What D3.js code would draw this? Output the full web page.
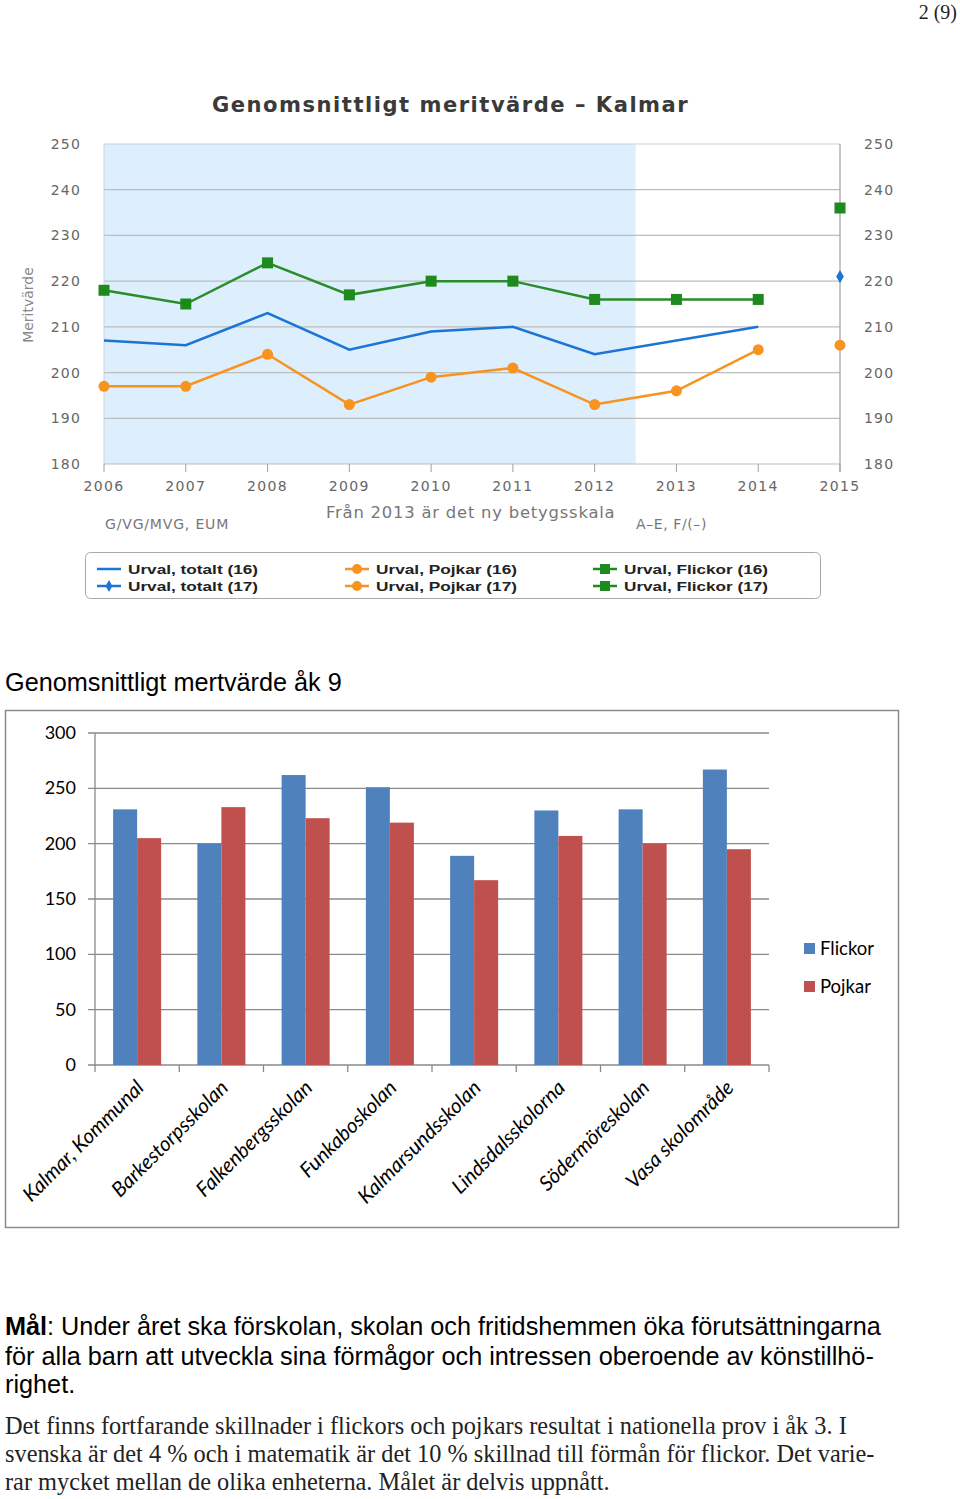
<!DOCTYPE html>
<html><head><meta charset="utf-8">
<script src="https://cdn.jsdelivr.net/npm/d3@7"></script>
<style>
html,body{margin:0;padding:0;background:#fff;}
svg{display:block;}
</style></head>
<body>
<svg id="page" width="960" height="1499"></svg>
<script>
// ---------- DATA: line chart ----------
const years = [2006, 2007, 2008, 2009, 2010, 2011, 2012, 2013, 2014];
const totalt16 = [207, 206, 213, 205, 209, 210, 204, 207, 210];
const pojkar16 = [197, 197, 204, 193, 199, 201, 193, 196, 205];
const flickor16 = [218, 215, 224, 217, 220, 220, 216, 216, 216];
const year17 = 2015;
const totalt17 = 221;
const pojkar17 = 206;
const flickor17 = 236;
const lineTicksY = [180, 190, 200, 210, 220, 230, 240, 250];
const lineTicksX = [2006, 2007, 2008, 2009, 2010, 2011, 2012, 2013, 2014, 2015];
const legendLabels = ["Urval, totalt (16)", "Urval, totalt (17)", "Urval, Pojkar (16)", "Urval, Pojkar (17)", "Urval, Flickor (16)", "Urval, Flickor (17)"];

// ---------- DATA: bar chart ----------
const schools = ["Kalmar, Kommunal", "Barkestorpsskolan", "Falkenbergsskolan", "Funkaboskolan", "Kalmarsundsskolan", "Lindsdalsskolorna", "Södermöreskolan", "Vasa skolområde"];
const flickor = [231, 200, 262, 251, 189, 230, 231, 267];
const pojkar = [205, 233, 223, 219, 167, 207, 200, 195];
const barSeries = ["Flickor", "Pojkar"];
const barTicks = [0, 50, 100, 150, 200, 250, 300];

const svg = d3.select("#page");

function fit(sel, w) {
  const n = sel.node();
  const fs = parseFloat(sel.attr("font-size"));
  const len = n.getComputedTextLength();
  if (len > 0) sel.attr("font-size", (fs * w / len).toFixed(2));
  return sel;
}

// page number
svg.append("text").attr("x", 957).attr("y", 19).attr("text-anchor", "end")
  .attr("font-family", "Liberation Serif, serif").attr("font-size", 20).attr("fill", "#222").text("2 (9)");

// ================= LINE CHART =================
const lc = svg.append("g");
const x = d3.scaleLinear().domain([2006, 2015]).range([104, 840]);
const y = d3.scaleLinear().domain([180, 250]).range([464, 144]);
const cBlue = "#1c74d4", cOrange = "#f7931e", cGreen = "#2a8c2a";

// plot band
lc.append("rect").attr("x", x(2006)).attr("y", y(250)).attr("width", x(2012.5) - x(2006)).attr("height", y(180) - y(250)).attr("fill", "#ddeefc");
// grid lines
lc.selectAll(".gl").data(lineTicksY).join("line")
  .attr("x1", x(2006)).attr("x2", x(2015)).attr("y1", d => y(d)).attr("y2", d => y(d))
  .attr("stroke", d => d === 250 ? "#c8d4e0" : "#bdbdbd").attr("stroke-width", 1.2);
// left border & right axis
lc.append("line").attr("x1", x(2006)).attr("x2", x(2006)).attr("y1", y(250)).attr("y2", y(180)).attr("stroke", "#c8d4e0");
lc.append("line").attr("x1", x(2015)).attr("x2", x(2015)).attr("y1", y(250)).attr("y2", y(180) + 8).attr("stroke", "#a0a0a0").attr("stroke-width", 1.2);
// x ticks
lc.selectAll(".xt").data(lineTicksX).join("line")
  .attr("x1", d => x(d)).attr("x2", d => x(d)).attr("y1", y(180)).attr("y2", y(180) + 8)
  .attr("stroke", "#a0a0a0");
const axFont = "DejaVu Sans, Verdana, sans-serif";
lc.selectAll(".xl").data(lineTicksX).join("text")
  .attr("x", d => x(d)).attr("y", 491).attr("text-anchor", "middle")
  .attr("font-family", axFont).attr("font-size", 14).attr("letter-spacing", 1.4).attr("fill", "#666").text(d => d);
lc.selectAll(".yl").data(lineTicksY).join("text")
  .attr("x", 81).attr("y", d => y(d) + 5).attr("text-anchor", "end")
  .attr("font-family", axFont).attr("font-size", 14).attr("letter-spacing", 1.2).attr("fill", "#666").text(d => d);
lc.selectAll(".yr").data(lineTicksY).join("text")
  .attr("x", 864).attr("y", d => y(d) + 5).attr("text-anchor", "start")
  .attr("font-family", axFont).attr("font-size", 14).attr("letter-spacing", 1.2).attr("fill", "#666").text(d => d);
lc.append("text").attr("transform", "translate(33,305) rotate(-90)").attr("text-anchor", "middle")
  .attr("font-family", axFont).attr("font-size", 14).attr("fill", "#888").text("Meritvärde");

// title
fit(lc.append("text").attr("x", 212).attr("y", 112).attr("font-family", axFont).attr("font-weight", "bold")
  .attr("font-size", 20).attr("letter-spacing", 1.5).attr("fill", "#3a3a3a").text("Genomsnittligt meritvärde – Kalmar"), 480);

// sub labels
fit(lc.append("text").attr("x", 105).attr("y", 529).attr("font-family", axFont).attr("font-size", 13)
  .attr("letter-spacing", 0.8).attr("fill", "#777").text("G/VG/MVG, EUM"), 125);
fit(lc.append("text").attr("x", 326).attr("y", 518).attr("font-family", axFont).attr("font-size", 15)
  .attr("letter-spacing", 0.8).attr("fill", "#777").text("Från 2013 är det ny betygsskala"), 292);
fit(lc.append("text").attr("x", 636).attr("y", 529).attr("font-family", axFont).attr("font-size", 12)
  .attr("letter-spacing", 0.6).attr("fill", "#777").text("A–E, F/(–)"), 72);

const line = d3.line().x((d, i) => x(years[i])).y(d => y(d));
lc.append("path").attr("d", line(totalt16)).attr("fill", "none").attr("stroke", cBlue).attr("stroke-width", 2.5);
lc.append("path").attr("d", line(pojkar16)).attr("fill", "none").attr("stroke", cOrange).attr("stroke-width", 2.5);
lc.append("path").attr("d", line(flickor16)).attr("fill", "none").attr("stroke", cGreen).attr("stroke-width", 2.5);

lc.selectAll(".om").data(pojkar16).join("circle")
  .attr("cx", (d, i) => x(years[i])).attr("cy", d => y(d)).attr("r", 5.5).attr("fill", cOrange);
lc.selectAll(".gm").data(flickor16).join("rect")
  .attr("x", (d, i) => x(years[i]) - 5.5).attr("y", d => y(d) - 5.5).attr("width", 11).attr("height", 11).attr("fill", "#1e8a1e");
// 2015 points
lc.append("rect").attr("x", x(year17) - 5.5).attr("y", y(flickor17) - 5.5).attr("width", 11).attr("height", 11).attr("fill", "#1e8a1e");
lc.append("circle").attr("cx", x(year17)).attr("cy", y(pojkar17)).attr("r", 5.5).attr("fill", cOrange);
lc.append("path").attr("d", d3.symbol(d3.symbolDiamond, 50)()).attr("transform", `translate(${x(year17)},${y(totalt17)})`).attr("fill", cBlue);

// legend
const lg = svg.append("g");
lg.append("rect").attr("x", 85.5).attr("y", 552.5).attr("width", 735).attr("height", 46).attr("rx", 5)
  .attr("fill", "#fff").attr("stroke", "#a8a8a8");
const legCols = [97, 345, 593];
const legRows = [569, 586];
const legColors = [cBlue, cBlue, cOrange, cOrange, "#1e8a1e", "#1e8a1e"];
legendLabels.forEach((t, i) => {
  const cx = legCols[Math.floor(i / 2)], cy = legRows[i % 2];
  const c = legColors[i];
  lg.append("line").attr("x1", cx).attr("x2", cx + 24).attr("y1", cy).attr("y2", cy).attr("stroke", c).attr("stroke-width", 2.5);
  const kind = Math.floor(i / 2);
  if (kind === 0 && i % 2 === 1) lg.append("path").attr("d", d3.symbol(d3.symbolDiamond, 40)()).attr("transform", `translate(${cx + 12},${cy})`).attr("fill", c);
  if (kind === 1) lg.append("circle").attr("cx", cx + 12).attr("cy", cy).attr("r", 5).attr("fill", c);
  if (kind === 2) lg.append("rect").attr("x", cx + 7).attr("y", cy - 5).attr("width", 10).attr("height", 10).attr("fill", c);
  lg.append("text").attr("x", cx + 31).attr("y", cy + 5).attr("font-family", "Liberation Sans Narrow, Arial Narrow, Liberation Sans, sans-serif")
    .attr("font-weight", "bold").attr("font-size", 13.5).attr("fill", "#222")
    .attr("textLength", i < 2 ? 130 : (i < 4 ? 141 : 144)).attr("lengthAdjust", "spacingAndGlyphs").text(t);
});

// ================= BAR CHART =================
fit(svg.append("text").attr("x", 5).attr("y", 691).attr("font-family", "Liberation Sans, Arial, sans-serif")
  .attr("font-size", 23).attr("fill", "#000").text("Genomsnittligt mertvärde åk 9"), 337);

const bc = svg.append("g");
bc.append("rect").attr("x", 5.5).attr("y", 710.5).attr("width", 893).attr("height", 517).attr("fill", "#fff").attr("stroke", "#8c8c8c").attr("stroke-width", 1.5);

const bx = d3.scaleBand().domain(schools).range([95, 769]).paddingInner(0.43).paddingOuter(0.215);
const bs = d3.scaleBand().domain(barSeries).range([0, bx.bandwidth()]);
const by = d3.scaleLinear().domain([0, 300]).range([1065, 733]);
const barColors = {Flickor: "#4f81bd", Pojkar: "#c0504d"};
const step = (769 - 95) / schools.length;

bc.selectAll(".bg").data(barTicks).join("line")
  .attr("x1", 88).attr("x2", 769).attr("y1", d => by(d)).attr("y2", d => by(d))
  .attr("stroke", "#8a8a8a").attr("stroke-width", 1.3);
bc.append("line").attr("x1", 95).attr("x2", 95).attr("y1", by(300)).attr("y2", by(0)).attr("stroke", "#8a8a8a").attr("stroke-width", 1.3);
bc.selectAll(".bt").data(d3.range(schools.length + 1)).join("line")
  .attr("x1", d => 95 + d * step).attr("x2", d => 95 + d * step).attr("y1", by(0)).attr("y2", by(0) + 7)
  .attr("stroke", "#8a8a8a").attr("stroke-width", 1.3);

const groups = bc.selectAll(".grp").data(schools).join("g").attr("transform", d => `translate(${bx(d)},0)`);
groups.selectAll("rect").data((d, i) => [{s: "Flickor", v: flickor[i]}, {s: "Pojkar", v: pojkar[i]}]).join("rect")
  .attr("x", d => bs(d.s)).attr("width", bs.bandwidth()).attr("y", d => by(d.v)).attr("height", d => by(0) - by(d.v))
  .attr("fill", d => barColors[d.s]);

const calFont = "Lato, Carlito, Open Sans, sans-serif";
bc.selectAll(".byl").data(barTicks).join("text")
  .attr("x", 76).attr("y", d => by(d) + 6).attr("text-anchor", "end")
  .attr("font-family", calFont).attr("font-size", 18).attr("fill", "#000").text(d => d);

bc.selectAll(".bxl").data(schools).join("text")
  .attr("transform", d => `translate(${bx(d) + bx.bandwidth() / 2 + 8},${1089}) rotate(-45)`)
  .attr("text-anchor", "end").attr("font-family", calFont).attr("font-style", "italic").attr("font-size", 20.5).attr("fill", "#000")
  .text(d => d);

barSeries.forEach((s, i) => {
  bc.append("rect").attr("x", 804).attr("y", 943 + i * 38).attr("width", 11).attr("height", 11).attr("fill", barColors[s]);
  bc.append("text").attr("x", 820).attr("y", 955 + i * 38).attr("font-family", calFont).attr("font-size", 18.5).attr("fill", "#000").text(s);
});

// ================= TEXT =================
const p1 = svg.append("text").attr("x", 5).attr("y", 1335).attr("font-family", "Liberation Sans, Arial, sans-serif").attr("font-size", 24).attr("fill", "#000");
p1.append("tspan").attr("font-weight", "bold").text("Mål");
p1.append("tspan").text(": Under året ska förskolan, skolan och fritidshemmen öka förutsättningarna");
fit(p1, 876);
const fs1 = p1.attr("font-size");
svg.append("text").attr("x", 5).attr("y", 1365).attr("font-family", "Liberation Sans, Arial, sans-serif").attr("font-size", fs1).attr("fill", "#000")
  .text("för alla barn att utveckla sina förmågor och intressen oberoende av könstillhö-");
svg.append("text").attr("x", 5).attr("y", 1393).attr("font-family", "Liberation Sans, Arial, sans-serif").attr("font-size", fs1).attr("fill", "#000")
  .text("righet.");

const serifLines = [
  ["Det finns fortfarande skillnader i flickors och pojkars resultat i nationella prov i åk 3. I", 1434, 842],
  ["svenska är det 4 % och i matematik är det 10 % skillnad till förmån för flickor. Det varie-", 1462, 871],
  ["rar mycket mellan de olika enheterna. Målet är delvis uppnått.", 1490, null]
];
let sfs = 22;
serifLines.forEach(([t, yy, w], i) => {
  const el = svg.append("text").attr("x", 5).attr("y", yy).attr("font-family", "Liberation Serif, DejaVu Serif, serif")
    .attr("font-size", sfs).attr("fill", "#222").text(t);
  if (i === 0) { fit(el, w); sfs = el.attr("font-size"); }
});
</script>
</body></html>
